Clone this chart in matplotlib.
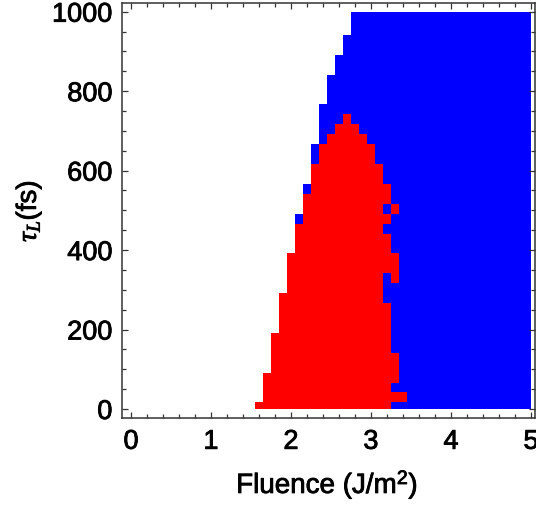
import numpy as np
import matplotlib
matplotlib.use("Agg")
import matplotlib.pyplot as plt
import matplotlib.patheffects as pe
from matplotlib.colors import ListedColormap
from matplotlib.ticker import MultipleLocator

plt.rcParams["font.family"] = ["Liberation Sans", "DejaVu Sans"]
plt.rcParams["mathtext.fontset"] = "custom"
plt.rcParams["mathtext.rm"] = "Liberation Sans"
plt.rcParams["mathtext.it"] = "Liberation Serif:italic"

# ---- grid of samples ----
fluence = np.round(np.arange(0, 50.5, 1) / 10, 1)      # J/m^2, 0.0 .. 5.0
tau = np.arange(0, 1001, 25)                            # fs, 0 .. 1000

# ---- per-row (tau) region data ----
# first fluence sample that is coloured (blue or red)
colored_from = [1.6, 1.7, 1.7, 1.7, 1.8, 1.8, 1.8, 1.8, 1.9, 1.9,
                1.9, 1.9, 2.0, 2.0, 2.0, 2.0, 2.1, 2.1, 2.1, 2.1,
                2.2, 2.2, 2.2, 2.3, 2.3, 2.3, 2.3, 2.4, 2.4, 2.4,
                2.4, 2.5, 2.5, 2.5, 2.6, 2.6, 2.7, 2.7, 2.8, 2.8, 2.8]
# first / last fluence sample in the red region (None = no red)
red_from = [1.6, 1.7, 1.7, 1.7, 1.8, 1.8, 1.8, 1.8, 1.9, 1.9,
            1.9, 1.9, 2.0, 2.0, 2.0, 2.0, 2.1, 2.1, 2.1, 2.2,
            2.2, 2.2, 2.3, 2.3, 2.3, 2.4, 2.4, 2.5, 2.6, 2.7] + [None] * 11
red_to = [3.2, 3.4, 3.2, 3.3, 3.3, 3.3, 3.2, 3.2, 3.2, 3.2,
          3.2, 3.1, 3.1, 3.1, 3.3, 3.3, 3.2, 3.2, 3.1, 3.2,
          3.1, 3.2, 3.2, 3.1, 3.1, 3.0, 3.0, 2.9, 2.8, 2.7] + [None] * 11
# isolated red cells inside the blue region (tau, fluence)
extra_red_tau = [325, 500]
extra_red_fluence = [3.3, 3.3]

# ---- build category grid: 0 none, 1 blue, 2 red ----
fi = np.round(fluence * 10).astype(int)
z = np.zeros((len(tau), len(fluence)))
for k in range(len(tau)):
    z[k, fi >= round(colored_from[k] * 10)] = 1
    if red_from[k] is not None:
        z[k, (fi >= round(red_from[k] * 10)) & (fi <= round(red_to[k] * 10))] = 2
for t, f in zip(extra_red_tau, extra_red_fluence):
    z[list(tau).index(t), int(round(f * 10))] = 2
zm = np.ma.masked_equal(z, 0)

f_edges = np.clip(np.r_[fluence - 0.05, fluence[-1] + 0.05], 0, 5)
t_edges = np.clip(np.r_[tau - 25 / 3, tau[-1] + 50 / 3], 0, 1000)

fig = plt.figure(figsize=(5.36, 5.06), dpi=100)
ax = fig.add_axes([122 / 536, 1 - 418.7 / 506, (534.5 - 122) / 536, (418.7 - 4) / 506])
cmap = ListedColormap(["#0000ff", "#ff0000"])
ax.pcolormesh(f_edges, t_edges, zm, cmap=cmap, vmin=0.5, vmax=2.5,
              shading="flat", antialiased=False, linewidth=0)

ax.set_xlim(-0.1125, 5.044)
ax.set_ylim(-21.9, 1021.9)
ax.xaxis.set_major_locator(MultipleLocator(1))
ax.xaxis.set_minor_locator(MultipleLocator(0.2))
ax.yaxis.set_major_locator(MultipleLocator(200))
ax.yaxis.set_minor_locator(MultipleLocator(50))
ax.tick_params(which="both", direction="in", top=True, right=True,
               labeltop=False, labelright=False, color="#333333",
               width=0.9, labelsize=19.5, labelcolor="black")
ax.tick_params(which="major", length=4.5)
ax.tick_params(axis="x", which="major", pad=8)
ax.tick_params(axis="y", which="major", pad=7)
ax.tick_params(which="minor", length=2.6)
for s in ax.spines.values():
    s.set_color("#333333")
    s.set_linewidth(1.1)

heavy = [pe.withStroke(linewidth=0.6, foreground="black")]
for lab in ax.get_xticklabels() + ax.get_yticklabels():
    lab.set_path_effects(heavy)

fig.text(327 / 536, 1 - 486 / 506, r"Fluence (J/m$^2$)", fontsize=20,
         ha="center", va="center", path_effects=heavy)
fig.text(29 / 536, 1 - 212 / 506, r"$\tau_L$(fs)", fontsize=20,
         ha="center", va="center", rotation=90, path_effects=heavy)

fig.savefig("out.png", dpi=100)
